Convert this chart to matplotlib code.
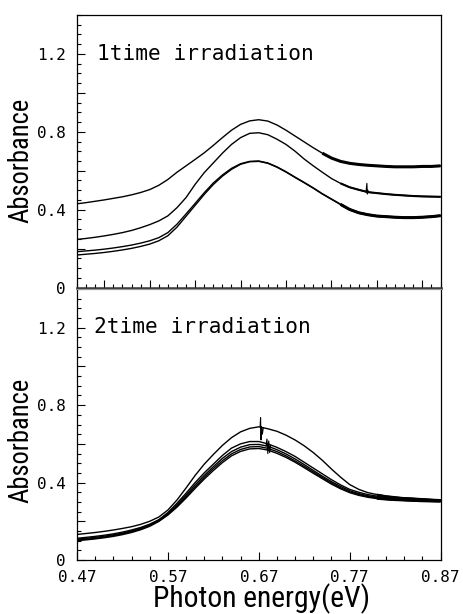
import matplotlib
matplotlib.use("Agg")
import matplotlib.pyplot as plt
from matplotlib import font_manager as fm
from matplotlib.ticker import MultipleLocator, FixedLocator

# ---------------- data ----------------
energy = [0.47, 0.48, 0.49, 0.50, 0.51, 0.52, 0.53, 0.54, 0.55, 0.56,
          0.57, 0.58, 0.59, 0.60, 0.61, 0.62, 0.63, 0.64, 0.65, 0.66,
          0.67, 0.68, 0.69, 0.70, 0.71, 0.72, 0.73, 0.74, 0.75, 0.76,
          0.77, 0.78, 0.79, 0.80, 0.81, 0.82, 0.83, 0.84, 0.85, 0.86, 0.87]

# 1 time irradiation
top_a = [0.430, 0.436, 0.443, 0.450, 0.458, 0.466, 0.476, 0.488, 0.503, 0.525,
         0.555, 0.592, 0.625, 0.658, 0.692, 0.730, 0.770, 0.808, 0.838, 0.856,
         0.862, 0.855, 0.835, 0.808, 0.778, 0.748, 0.718, 0.690, 0.665, 0.648,
         0.638, 0.632, 0.628, 0.625, 0.622, 0.620, 0.620, 0.620, 0.622, 0.622, 0.625]
top_b = [0.247, 0.252, 0.258, 0.265, 0.273, 0.282, 0.293, 0.307, 0.323, 0.342,
         0.368, 0.410, 0.462, 0.530, 0.590, 0.640, 0.690, 0.735, 0.770, 0.792,
         0.795, 0.785, 0.762, 0.735, 0.700, 0.660, 0.625, 0.592, 0.560, 0.535,
         0.515, 0.502, 0.490, 0.485, 0.480, 0.476, 0.473, 0.470, 0.468, 0.467, 0.466]
top_c = [0.184, 0.188, 0.192, 0.197, 0.203, 0.210, 0.218, 0.228, 0.240, 0.256,
         0.282, 0.325, 0.378, 0.432, 0.487, 0.537, 0.578, 0.612, 0.636, 0.648,
         0.650, 0.640, 0.620, 0.595, 0.567, 0.540, 0.512, 0.482, 0.455, 0.428,
         0.402, 0.385, 0.375, 0.368, 0.365, 0.362, 0.360, 0.360, 0.362, 0.365, 0.370]
top_d = [0.167, 0.171, 0.175, 0.180, 0.186, 0.193, 0.201, 0.211, 0.223, 0.240,
         0.266, 0.310, 0.366, 0.422, 0.478, 0.529, 0.572, 0.607, 0.633, 0.646,
         0.648, 0.638, 0.618, 0.593, 0.565, 0.538, 0.510, 0.480, 0.453, 0.426,
         0.400, 0.383, 0.373, 0.366, 0.363, 0.360, 0.358, 0.358, 0.360, 0.363, 0.368]
top_spike_x = [0.788, 0.789, 0.7895, 0.790, 0.791]
top_spike_y = [0.491, 0.535, 0.480, 0.500, 0.489]

# 2 time irradiation
bot_e = [0.132, 0.137, 0.142, 0.148, 0.155, 0.163, 0.172, 0.184, 0.200, 0.222,
         0.258, 0.310, 0.372, 0.437, 0.495, 0.545, 0.592, 0.632, 0.662, 0.680,
         0.688, 0.678, 0.665, 0.645, 0.620, 0.590, 0.555, 0.515, 0.470, 0.428,
         0.390, 0.365, 0.348, 0.338, 0.330, 0.325, 0.320, 0.318, 0.315, 0.312, 0.310]
bot_f = [0.112, 0.117, 0.122, 0.128, 0.135, 0.144, 0.155, 0.168, 0.185, 0.208,
         0.245, 0.293, 0.345, 0.400, 0.450, 0.495, 0.540, 0.578, 0.600, 0.612,
         0.612, 0.600, 0.582, 0.560, 0.535, 0.505, 0.475, 0.445, 0.415, 0.388,
         0.365, 0.350, 0.338, 0.330, 0.325, 0.320, 0.318, 0.315, 0.312, 0.310, 0.308]
bot_g = [0.108, 0.112, 0.117, 0.123, 0.130, 0.139, 0.150, 0.164, 0.182, 0.206,
         0.240, 0.285, 0.335, 0.388, 0.437, 0.482, 0.525, 0.560, 0.583, 0.596,
         0.597, 0.588, 0.570, 0.548, 0.522, 0.493, 0.463, 0.433, 0.405, 0.380,
         0.358, 0.343, 0.332, 0.325, 0.320, 0.316, 0.313, 0.311, 0.309, 0.307, 0.305]
bot_h = [0.103, 0.107, 0.112, 0.118, 0.126, 0.135, 0.146, 0.160, 0.178, 0.203,
         0.236, 0.279, 0.327, 0.378, 0.427, 0.472, 0.513, 0.548, 0.571, 0.584,
         0.586, 0.577, 0.560, 0.538, 0.512, 0.484, 0.455, 0.426, 0.398, 0.373,
         0.352, 0.338, 0.328, 0.321, 0.316, 0.312, 0.310, 0.308, 0.306, 0.305, 0.304]
bot_i = [0.100, 0.104, 0.109, 0.115, 0.122, 0.131, 0.142, 0.156, 0.174, 0.199,
         0.232, 0.273, 0.320, 0.370, 0.418, 0.462, 0.503, 0.538, 0.561, 0.574,
         0.576, 0.568, 0.551, 0.530, 0.505, 0.477, 0.448, 0.420, 0.392, 0.368,
         0.348, 0.334, 0.324, 0.317, 0.313, 0.310, 0.308, 0.306, 0.304, 0.303, 0.302]
bot_spike_x = [0.6715, 0.672, 0.6725, 0.673, 0.674, 0.675]
bot_spike_y = [0.688, 0.735, 0.620, 0.690, 0.650, 0.684]
bot_spike2_x = [0.678, 0.679, 0.680, 0.681, 0.682, 0.683]
bot_spike2_y = [0.590, 0.625, 0.550, 0.615, 0.555, 0.590]

top_series = [top_a, top_b, top_c, top_d]
bot_series = [bot_e, bot_f, bot_g, bot_h, bot_i]

x_major_ticks = [0.47, 0.57, 0.67, 0.77, 0.87]
x_tick_labels = ["0.47", "0.57", "0.67", "0.77", "0.87"]
y_ticks = [0, 0.2, 0.4, 0.6, 0.8, 1.0, 1.2]
y_tick_labels = ["0", "", "0.4", "", "0.8", "", "1.2"]

panel_titles = ["1time irradiation", "2time irradiation"]

# ---------------- style ----------------
# start of the noisy part of each trace (drawn with a heavier line)
top_noisy_from = [0.74, 0.76, 0.76, 0.76]
top_noisy_lw = [2.2, 1.5, 1.9, 1.9]
bot_noisy_from = [0.80, 0.80, 0.80, 0.80, 0.80]
bot_noisy_lw = [1.4, 1.6, 1.6, 1.6, 1.6]

W, H = 463, 614
fig = plt.figure(figsize=(W / 100, H / 100), dpi=100)

avail = {f.name for f in fm.fontManager.ttflist}
mono = ["DejaVu Sans Mono"]
narrow_name = next((n for n in ["Liberation Sans Narrow", "Arial Narrow",
                                "Roboto Condensed", "Liberation Sans"]
                    if n in avail), "DejaVu Sans")
narrow = [narrow_name, "DejaVu Sans"]

left = 77 / W
width = (440.5 - 77) / W
ax1 = fig.add_axes([left, (H - 287.5) / H, width, 272.5 / H])
ax2 = fig.add_axes([left, (H - 560) / H, width, 271 / H])

lw = 1.0


def draw(ax, series, starts, lws):
    for s, x0, wdt in zip(series, starts, lws):
        ax.plot(energy, s, color="black", lw=lw)
        xs = [e for e in energy if e >= x0]
        ys = [v for e, v in zip(energy, s) if e >= x0]
        ax.plot(xs, ys, color="black", lw=wdt, solid_capstyle="butt")


draw(ax1, top_series, top_noisy_from, top_noisy_lw)
ax1.plot(top_spike_x, top_spike_y, color="black", lw=0.8)
draw(ax2, bot_series, bot_noisy_from, bot_noisy_lw)
ax2.plot(bot_spike_x, bot_spike_y, color="black", lw=0.8)
ax2.plot(bot_spike2_x, bot_spike2_y, color="black", lw=0.8)

for k, ax in enumerate([ax1, ax2]):
    ax.set_xlim(0.47, 0.87)
    ax.set_ylim(0, 1.4)
    ax.set_yticks(y_ticks)
    ax.set_yticklabels(y_tick_labels, family=mono, fontsize=11.5)
    ax.yaxis.set_minor_locator(MultipleLocator(0.05))
    ax.tick_params(axis="both", which="both", direction="in",
                   top=False, right=False, colors="black")
    ax.tick_params(axis="both", which="major", length=6, width=0.8)
    ax.tick_params(axis="both", which="minor", length=3, width=0.8)
    ax.tick_params(axis="y", which="major", pad=8)
    for sp in ax.spines.values():
        sp.set_linewidth(0.9)
        sp.set_color("black")
    ax.set_ylabel("Absorbance", family=narrow, fontsize=18)
    ax.text(0.055 if k == 0 else 0.047, 0.895, panel_titles[k],
            transform=ax.transAxes, ha="left", va="top",
            family=mono, fontsize=15.2)

# label anchor = right edge of the rotated text
ax1.yaxis.set_label_coords(-0.118, 0.468)
ax2.yaxis.set_label_coords(-0.118, 0.44)

# top panel x ticks: major 0.05, minor 0.01, no labels
ax1.xaxis.set_major_locator(MultipleLocator(0.05))
ax1.xaxis.set_minor_locator(MultipleLocator(0.01))
ax1.set_xticklabels([])
ax1.spines["bottom"].set_linewidth(1.8)
ax1.spines["bottom"].set_color("#333333")

# bottom panel x ticks: major 0.1, minor 0.02
ax2.set_xticks(x_major_ticks)
ax2.set_xticklabels(x_tick_labels, family=mono, fontsize=11.5)
ax2.xaxis.set_minor_locator(FixedLocator([0.47 + 0.02 * i for i in range(21)]))
ax2.tick_params(axis="x", which="major", pad=7)
ax2.spines["top"].set_color("#999999")

xlab = fig.text(262.0 / W, 6.5 / H, "Photon energy(eV)", ha="center",
                va="baseline", family=narrow, fontsize=18)

# size the label texts to the lengths they have in the reference
fig.canvas.draw()
r = fig.canvas.get_renderer()
for ax in (ax1, ax2):
    lab = ax.yaxis.label
    h = lab.get_window_extent(r).height
    lab.set_fontsize(lab.get_fontsize() * 125.0 / h)
wpx = xlab.get_window_extent(r).width
xlab.set_fontsize(xlab.get_fontsize() * 218.0 / wpx)

fig.savefig("out.png", dpi=100, facecolor="white")
